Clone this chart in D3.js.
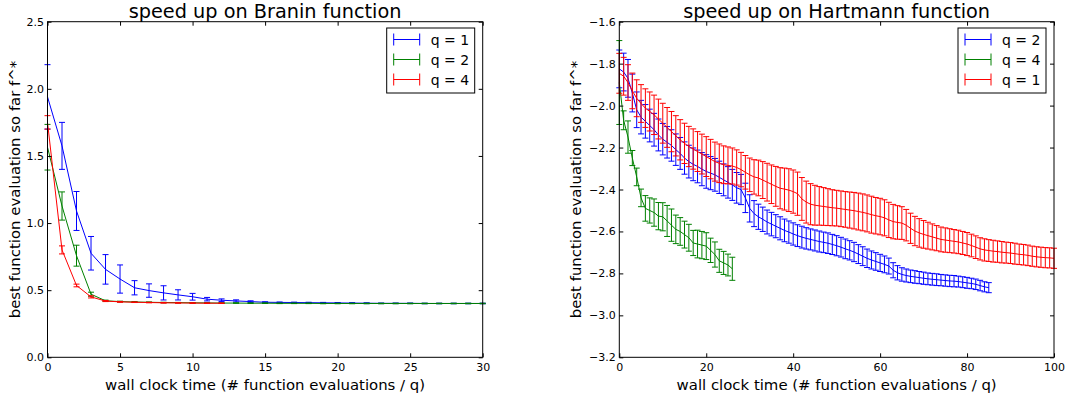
<!DOCTYPE html>
<html><head><meta charset="utf-8">
<script src="https://cdn.jsdelivr.net/npm/d3@7"></script>
<style>body{margin:0;background:#fff}svg{display:block;font-family:"DejaVu Sans",sans-serif}</style>
</head><body><svg id="c" width="1069" height="396"></svg>
<script>
// ---------- Branin panel data ----------
const braninTitle = "speed up on Branin function";
const braninLabels = ["q = 1", "q = 2", "q = 4"];
const braninQ1Mean = [1.94,1.575,1.09,0.775,0.655,0.583,0.518,0.497,0.48,0.465,0.451,0.433,0.425,0.42,0.415,0.41,0.409,0.408,0.407,0.406,0.405,0.404,0.403,0.402,0.402,0.402,0.401,0.401,0.401,0.401,0.401];
const braninQ1Err  = [0.24,0.175,0.145,0.125,0.11,0.105,0.053,0.05,0.053,0.038,0.025,0.013,0.01,0.008,0.006,0.004,0.003,0.003,0.003,0.003,0.003,0.003,0.003,0.002,0.002,0.002,0.002,0.002,0.002,0.002,0.002];
const braninQ2Mean = [1.565,1.127,0.757,0.47,0.421,0.415,0.412,0.41,0.408,0.407,0.406,0.405,0.404,0.404,0.403,0.403,0.402,0.402,0.402,0.401,0.401,0.401,0.401,0.401,0.401,0.401,0.401,0.401,0.401,0.401,0.401];
const braninQ2Err  = [0.17,0.105,0.078,0.015,0.005,0.003,0.003,0.002,0.002,0.002,0.002,0.002,0.002,0.002,0.002,0.002,0.002,0.002,0.002,0.002,0.002,0.002,0.002,0.002,0.002,0.002,0.002,0.002,0.002,0.002,0.002];
const braninQ4Mean = [1.75,0.80,0.535,0.45,0.419,0.413,0.41,0.408,0.406,0.405,0.404,0.403,0.403];
const braninQ4Err  = [0.05,0.03,0.01,0.008,0.004,0.003,0.002,0.002,0.002,0.002,0.002,0.002,0.002];
const braninXTicks = [0,5,10,15,20,25,30];
const braninYTicks = [0.0,0.5,1.0,1.5,2.0,2.5];

// ---------- Hartmann panel data ----------
const hartTitle = "speed up on Hartmann function";
const hartLabels = ["q = 2", "q = 4", "q = 1"];
const hartQ2Mean = [-1.825,-1.84,-1.87,-1.94,-2.02,-2.055,-2.075,-2.095,-2.115,-2.14,-2.16,-2.175,-2.19,-2.21,-2.228,-2.25,-2.267,-2.28,-2.29,-2.303,-2.314,-2.322,-2.33,-2.342,-2.354,-2.366,-2.378,-2.392,-2.40,-2.44,-2.49,-2.515,-2.53,-2.542,-2.555,-2.565,-2.575,-2.585,-2.595,-2.603,-2.612,-2.62,-2.627,-2.633,-2.638,-2.643,-2.648,-2.652,-2.656,-2.662,-2.668,-2.675,-2.683,-2.69,-2.698,-2.708,-2.718,-2.728,-2.736,-2.743,-2.75,-2.757,-2.765,-2.785,-2.797,-2.805,-2.81,-2.814,-2.817,-2.82,-2.823,-2.826,-2.828,-2.83,-2.832,-2.834,-2.836,-2.837,-2.839,-2.842,-2.845,-2.848,-2.852,-2.858,-2.864,-2.868];
const hartQ2Err  = [0.09,0.09,0.09,0.09,0.085,0.08,0.08,0.078,0.078,0.076,0.075,0.075,0.075,0.075,0.076,0.077,0.078,0.078,0.078,0.079,0.08,0.079,0.078,0.077,0.076,0.075,0.074,0.073,0.072,0.07,0.065,0.062,0.06,0.058,0.057,0.056,0.055,0.055,0.054,0.053,0.053,0.052,0.052,0.051,0.05,0.05,0.05,0.049,0.049,0.048,0.048,0.047,0.047,0.046,0.046,0.045,0.045,0.044,0.043,0.042,0.041,0.04,0.038,0.036,0.034,0.032,0.031,0.03,0.03,0.029,0.029,0.028,0.028,0.028,0.027,0.027,0.027,0.027,0.026,0.026,0.026,0.025,0.025,0.025,0.024,0.024];
const hartQ4Mean = [-1.89,-2.07,-2.15,-2.25,-2.34,-2.44,-2.49,-2.50,-2.51,-2.527,-2.53,-2.55,-2.57,-2.59,-2.60,-2.615,-2.63,-2.655,-2.66,-2.665,-2.67,-2.69,-2.71,-2.74,-2.75,-2.76,-2.778];
const hartQ4Err  = [0.2,0.045,0.077,0.036,0.042,0.042,0.061,0.06,0.065,0.065,0.067,0.074,0.077,0.068,0.066,0.064,0.064,0.06,0.066,0.065,0.064,0.058,0.06,0.055,0.055,0.052,0.055];
const hartQ1Mean = [-1.846,-1.86,-1.89,-1.93,-1.965,-1.99,-2.012,-2.028,-2.044,-2.064,-2.084,-2.104,-2.124,-2.144,-2.163,-2.18,-2.195,-2.207,-2.219,-2.231,-2.243,-2.255,-2.267,-2.275,-2.282,-2.285,-2.288,-2.295,-2.305,-2.318,-2.33,-2.34,-2.345,-2.355,-2.365,-2.375,-2.385,-2.394,-2.398,-2.403,-2.41,-2.42,-2.445,-2.46,-2.47,-2.475,-2.478,-2.481,-2.484,-2.487,-2.489,-2.492,-2.495,-2.498,-2.501,-2.505,-2.509,-2.514,-2.52,-2.525,-2.529,-2.535,-2.545,-2.553,-2.557,-2.56,-2.57,-2.585,-2.598,-2.607,-2.614,-2.62,-2.626,-2.632,-2.638,-2.641,-2.644,-2.647,-2.65,-2.655,-2.66,-2.667,-2.675,-2.683,-2.688,-2.691,-2.694,-2.696,-2.699,-2.701,-2.703,-2.706,-2.709,-2.711,-2.714,-2.718,-2.721,-2.723,-2.725,-2.726,-2.728];
const hartQ1Err  = [0.095,0.09,0.085,0.085,0.088,0.09,0.092,0.093,0.094,0.095,0.095,0.095,0.096,0.096,0.096,0.096,0.096,0.096,0.095,0.095,0.095,0.094,0.093,0.092,0.09,0.088,0.086,0.084,0.082,0.08,0.08,0.082,0.085,0.088,0.09,0.092,0.095,0.098,0.1,0.102,0.103,0.103,0.102,0.1,0.098,0.095,0.092,0.09,0.088,0.086,0.085,0.085,0.085,0.086,0.087,0.088,0.088,0.088,0.088,0.087,0.087,0.086,0.084,0.082,0.08,0.078,0.075,0.072,0.07,0.068,0.066,0.064,0.062,0.06,0.059,0.058,0.057,0.056,0.056,0.055,0.055,0.054,0.054,0.053,0.053,0.052,0.052,0.051,0.051,0.05,0.05,0.05,0.049,0.049,0.049,0.048,0.048,0.048,0.048,0.048,0.048];
const hartXTicks = [0,20,40,60,80,100];
const hartYTicks = [-3.2,-3.0,-2.8,-2.6,-2.4,-2.2,-2.0,-1.8,-1.6];

const xLabel = "wall clock time (# function evaluations / q)";
const yLabel = "best function evaluation so far f^*";
const COLORS = {blue:"#0000ff", green:"#008000", red:"#ff0000"};

const svg = d3.select("#c");

function panel(o) {
  const x = d3.scaleLinear().domain(o.xDomain).range([o.left, o.right]);
  const y = d3.scaleLinear().domain(o.yDomain).range([o.bottom, o.top]);
  const g = svg.append("g");

  // series
  o.series.forEach(s => {
    const pts = s.mean.map((m, i) => ({t: i, m, e: s.err[i]}));
    const sg = g.append("g").attr("stroke", s.color).attr("fill", "none").attr("stroke-width", 1);
    sg.append("path").attr("d", d3.line().x(d => x(d.t)).y(d => y(d.m))(pts));
    pts.forEach(d => {
      const px = x(d.t), y1 = y(d.m + d.e), y2 = y(d.m - d.e);
      sg.append("line").attr("x1", px).attr("x2", px).attr("y1", y1).attr("y2", y2);
      sg.append("line").attr("x1", px - 3).attr("x2", px + 3).attr("y1", y1).attr("y2", y1);
      sg.append("line").attr("x1", px - 3).attr("x2", px + 3).attr("y1", y2).attr("y2", y2);
    });
  });

  // axes (ticks inward on all four sides)
  g.append("g").attr("transform", `translate(0,${o.bottom})`)
    .call(d3.axisBottom(x).tickValues(o.xTicks).tickSizeInner(-4).tickSizeOuter(0).tickPadding(6).tickFormat(d3.format("d")));
  g.append("g").attr("transform", `translate(0,${o.top})`)
    .call(d3.axisTop(x).tickValues(o.xTicks).tickSizeInner(-4).tickSizeOuter(0).tickFormat(""));
  g.append("g").attr("transform", `translate(${o.left},0)`)
    .call(d3.axisLeft(y).tickValues(o.yTicks).tickSizeInner(-4).tickSizeOuter(0).tickPadding(3.5).tickFormat(o.yFmt));
  g.append("g").attr("transform", `translate(${o.right},0)`)
    .call(d3.axisRight(y).tickValues(o.yTicks).tickSizeInner(-4).tickSizeOuter(0).tickFormat(""));
  g.selectAll(".domain").remove();
  g.selectAll(".tick line").attr("stroke", "#000");
  g.selectAll(".tick text").attr("font-size", 11).attr("fill", "#000").attr("font-family", "DejaVu Sans");
  g.append("rect").attr("x", o.left).attr("y", o.top).attr("width", o.right - o.left).attr("height", o.bottom - o.top)
    .attr("fill", "none").attr("stroke", "#000").attr("stroke-width", 1);

  // title & labels
  g.append("text").attr("x", (o.left + o.right) / 2).attr("y", 18).attr("text-anchor", "middle")
    .attr("font-size", 19.3).text(o.title);
  g.append("text").attr("x", (o.left + o.right) / 2).attr("y", 390).attr("text-anchor", "middle")
    .attr("font-size", 14.9).text(xLabel);
  g.append("text").attr("transform", `translate(${o.ylabX},${(o.top + o.bottom) / 2}) rotate(-90)`)
    .attr("text-anchor", "middle").attr("font-size", 14.9).text(yLabel);

  // legend
  const lx = o.right - 96, ly = 28;
  const lg = g.append("g");
  lg.append("rect").attr("x", lx).attr("y", ly).attr("width", 88).attr("height", 65)
    .attr("fill", "#fff").attr("stroke", "#000").attr("stroke-width", 1);
  o.series.forEach((s, i) => {
    const cy = ly + 11.5 + i * 20;
    const e = lg.append("g").attr("stroke", s.color).attr("stroke-width", 1);
    e.append("line").attr("x1", lx + 7).attr("x2", lx + 33).attr("y1", cy).attr("y2", cy);
    e.append("line").attr("x1", lx + 7).attr("x2", lx + 7).attr("y1", cy - 6).attr("y2", cy + 6);
    e.append("line").attr("x1", lx + 33).attr("x2", lx + 33).attr("y1", cy - 6).attr("y2", cy + 6);
    lg.append("text").attr("x", lx + 44).attr("y", cy + 5).attr("font-size", 14).text(s.label);
  });
}

panel({
  left: 47.5, right: 482.7, top: 21.7, bottom: 357.3, ylabX: 20,
  xDomain: [0, 30], yDomain: [0, 2.5], xTicks: braninXTicks, yTicks: braninYTicks,
  yFmt: d3.format(".1f"), title: braninTitle,
  series: [
    {mean: braninQ1Mean, err: braninQ1Err, color: COLORS.blue, label: braninLabels[0]},
    {mean: braninQ2Mean, err: braninQ2Err, color: COLORS.green, label: braninLabels[1]},
    {mean: braninQ4Mean, err: braninQ4Err, color: COLORS.red, label: braninLabels[2]}
  ]
});
panel({
  left: 619.3, right: 1054, top: 21.7, bottom: 357.3, ylabX: 581,
  xDomain: [0, 100], yDomain: [-3.2, -1.6], xTicks: hartXTicks, yTicks: hartYTicks,
  yFmt: d => d3.format(".1f")(d).replace("-", "\u2212"), title: hartTitle,
  series: [
    {mean: hartQ2Mean, err: hartQ2Err, color: COLORS.blue, label: hartLabels[0]},
    {mean: hartQ4Mean, err: hartQ4Err, color: COLORS.green, label: hartLabels[1]},
    {mean: hartQ1Mean, err: hartQ1Err, color: COLORS.red, label: hartLabels[2]}
  ]
});
</script></body></html>
